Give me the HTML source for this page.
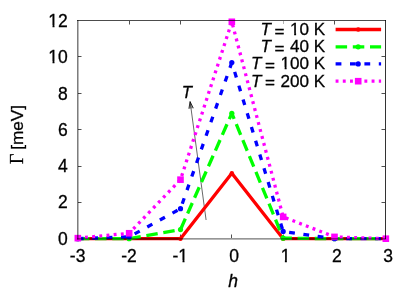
<!DOCTYPE html><html><head><meta charset="utf-8"><style>html,body{margin:0;padding:0;background:#fff}svg{display:block;will-change:transform}text{font-family:"Liberation Sans",sans-serif;fill:#000;stroke:#000;stroke-width:0.3px}</style></head><body>
<svg width="415" height="291" viewBox="0 0 415 291">
<rect width="415" height="291" fill="#fff"/>
<path d="M283.5 21v3" stroke="#b4b4b4" stroke-width="1" fill="none"/>
<path d="M129.5 238v-3.5M129.5 21v3.5M180.5 238v-3.5M180.5 21v3.5M231.5 238v-3.5M231.5 21v3.5M283.5 238v-3.5M334.5 238v-3.5M334.5 21v3.5M78 202.5h3.5M385 202.5h-3.5M78 166.5h3.5M385 166.5h-3.5M78 129.5h3.5M385 129.5h-3.5M78 93.5h3.5M385 93.5h-3.5M78 56.5h3.5M385 56.5h-3.5" stroke="#505050" stroke-width="1" fill="none"/>
<text x="77.63" y="262.3" font-size="17.5" text-anchor="middle">-3</text>
<text x="128.96" y="262.3" font-size="17.5" text-anchor="middle">-2</text>
<text x="180.30" y="262.3" font-size="17.5" text-anchor="middle">-1</text>
<text x="234.23" y="262.3" font-size="17.5" text-anchor="middle">0</text>
<text x="285.56" y="262.3" font-size="17.5" text-anchor="middle">1</text>
<text x="336.90" y="262.3" font-size="17.5" text-anchor="middle">2</text>
<text x="388.23" y="262.3" font-size="17.5" text-anchor="middle">3</text>
<text x="67.8"  y="244.80" font-size="17.5" text-anchor="end">0</text>
<text x="67.8"  y="208.47" font-size="17.5" text-anchor="end">2</text>
<text x="67.8"  y="172.13" font-size="17.5" text-anchor="end">4</text>
<text x="67.8"  y="136.10" font-size="17.5" text-anchor="end">6</text>
<text x="67.8"  y="99.87" font-size="17.5" text-anchor="end">8</text>
<text x="67.8"  y="63.14" font-size="17.5" text-anchor="end">10</text>
<text x="67.8"  y="26.80" font-size="17.5" text-anchor="end">12</text>
<text x="233.1" y="287.3" font-size="17.5" text-anchor="middle" font-style="italic">h</text>
<text transform="translate(22.8,164) rotate(-90)" font-size="18" font-family="Liberation Serif" style="font-family:'Liberation Serif',serif">Γ</text>
<text transform="translate(22.8,149.8) rotate(-90)" font-size="17.2">[meV]</text>
<path d="M206.1 220L190.1 101.6" stroke="#000" stroke-opacity="0.85" stroke-width="0.7" fill="none"/>
<path d="M188.9 108.7L190.1 101.6L193.3 108.2" stroke="#000" stroke-width="0.8" fill="#000" fill-opacity="0.35" stroke-linejoin="miter"/>
<text x="186.8" y="98.3" font-size="16.8" text-anchor="middle" font-style="italic">T</text>
<polyline points="77.83,238.70 129.16,238.70 180.50,238.70 231.83,173.30 283.16,238.70 334.50,238.70 385.83,238.70" fill="none" stroke="#ff0000" stroke-width="3.3" stroke-linejoin="round"/>
<path d="M78 238.70H181.50M282.16 238.70H386" fill="none" stroke="#000" stroke-opacity="0.2" stroke-width="2.4"/>
<circle cx="77.83" cy="238.70" r="2.2" fill="#ff0000"/>
<circle cx="129.16" cy="238.70" r="2.2" fill="#ff0000"/>
<circle cx="180.50" cy="238.70" r="2.2" fill="#ff0000"/>
<circle cx="231.83" cy="173.30" r="2.2" fill="#ff0000"/>
<circle cx="283.16" cy="238.70" r="2.2" fill="#ff0000"/>
<circle cx="334.50" cy="238.70" r="2.2" fill="#ff0000"/>
<circle cx="385.83" cy="238.70" r="2.2" fill="#ff0000"/>
<polyline points="77.83,238.70 129.16,238.70 180.50,229.62" fill="none" stroke="#00ff00" stroke-width="3.3" stroke-linejoin="miter" stroke-dasharray="11.5 5.7" stroke-dashoffset="0.00"/>
<polyline points="180.50,229.62 231.83,113.35" fill="none" stroke="#00ff00" stroke-width="3.3" stroke-linejoin="miter" stroke-dasharray="11.5 5.7" stroke-dashoffset="102.76"/>
<polyline points="231.83,113.35 283.16,238.16" fill="none" stroke="#00ff00" stroke-width="3.3" stroke-linejoin="miter" stroke-dasharray="11.5 5.7" stroke-dashoffset="229.06"/>
<polyline points="283.16,238.16 334.50,238.70 385.83,238.70" fill="none" stroke="#00ff00" stroke-width="3.3" stroke-linejoin="miter" stroke-dasharray="11.5 5.7" stroke-dashoffset="364.01"/>
<circle cx="77.83" cy="238.70" r="2.6" fill="#00ff00"/>
<circle cx="129.16" cy="238.70" r="2.6" fill="#00ff00"/>
<circle cx="180.50" cy="229.62" r="2.6" fill="#00ff00"/>
<circle cx="231.83" cy="113.35" r="2.6" fill="#00ff00"/>
<circle cx="283.16" cy="238.16" r="2.6" fill="#00ff00"/>
<circle cx="334.50" cy="238.70" r="2.6" fill="#00ff00"/>
<circle cx="385.83" cy="238.70" r="2.6" fill="#00ff00"/>
<polyline points="77.83,238.70 129.16,236.88 180.50,208.72" fill="none" stroke="#0000ff" stroke-width="3.3" stroke-linejoin="miter" stroke-dasharray="5.8 8.6" stroke-dashoffset="0.00"/>
<polyline points="180.50,208.72 231.83,62.48" fill="none" stroke="#0000ff" stroke-width="3.3" stroke-linejoin="miter" stroke-dasharray="5.8 8.6" stroke-dashoffset="109.91"/>
<polyline points="231.83,62.48 283.16,231.43" fill="none" stroke="#0000ff" stroke-width="3.3" stroke-linejoin="miter" stroke-dasharray="5.8 8.6" stroke-dashoffset="263.80"/>
<polyline points="283.16,231.43 334.50,238.70 385.83,238.70" fill="none" stroke="#0000ff" stroke-width="3.3" stroke-linejoin="miter" stroke-dasharray="5.8 8.6" stroke-dashoffset="440.38"/>
<circle cx="77.83" cy="238.70" r="2.6" fill="#0000ff"/>
<circle cx="129.16" cy="236.88" r="2.6" fill="#0000ff"/>
<circle cx="180.50" cy="208.72" r="2.6" fill="#0000ff"/>
<circle cx="231.83" cy="62.48" r="2.6" fill="#0000ff"/>
<circle cx="283.16" cy="231.43" r="2.6" fill="#0000ff"/>
<circle cx="334.50" cy="238.70" r="2.6" fill="#0000ff"/>
<circle cx="385.83" cy="238.70" r="2.6" fill="#0000ff"/>
<polyline points="77.83,238.16 129.16,233.25 180.50,179.66" fill="none" stroke="#ff00ff" stroke-width="3.3" stroke-linejoin="miter" stroke-dasharray="2.9 4.3" stroke-dashoffset="0.00"/>
<polyline points="180.50,179.66 231.83,21.79" fill="none" stroke="#ff00ff" stroke-width="3.3" stroke-linejoin="miter" stroke-dasharray="2.9 4.3" stroke-dashoffset="125.78"/>
<polyline points="231.83,21.79 283.16,216.90" fill="none" stroke="#ff00ff" stroke-width="3.3" stroke-linejoin="miter" stroke-dasharray="2.9 4.3" stroke-dashoffset="292.28"/>
<polyline points="283.16,216.90 334.50,236.88 385.83,238.70" fill="none" stroke="#ff00ff" stroke-width="3.3" stroke-linejoin="miter" stroke-dasharray="2.9 4.3" stroke-dashoffset="494.03"/>
<rect x="74.53" y="234.85" width="6.6" height="6.6" fill="#ff00ff"/>
<rect x="125.86" y="229.95" width="6.6" height="6.6" fill="#ff00ff"/>
<rect x="177.20" y="176.36" width="6.6" height="6.6" fill="#ff00ff"/>
<rect x="228.53" y="18.49" width="6.6" height="6.6" fill="#ff00ff"/>
<rect x="279.86" y="213.60" width="6.6" height="6.6" fill="#ff00ff"/>
<rect x="331.20" y="233.58" width="6.6" height="6.6" fill="#ff00ff"/>
<rect x="382.53" y="235.40" width="6.6" height="6.6" fill="#ff00ff"/>
<path d="M335.6 29.5H381.1" fill="none" stroke="#ff0000" stroke-width="3.3"/>
<circle cx="358.20" cy="29.50" r="2.2" fill="#ff0000"/>
<text transform="translate(260.6,34.90) scale(1,0.95)" font-size="17.1" font-style="italic">T</text>
<text transform="translate(274.5,36.70) scale(1,0.95)" font-size="17.1">=</text>
<text transform="translate(325.2,34.90) scale(1,0.95)" font-size="17.1" text-anchor="end">10 K</text>
<path d="M335.6 46.8H381.1" fill="none" stroke="#00ff00" stroke-width="3.3" stroke-dasharray="11.5 5.7"/>
<circle cx="358.20" cy="46.80" r="2.6" fill="#00ff00"/>
<text transform="translate(260.6,52.20) scale(1,0.95)" font-size="17.1" font-style="italic">T</text>
<text transform="translate(274.5,54.00) scale(1,0.95)" font-size="17.1">=</text>
<text transform="translate(325.2,52.20) scale(1,0.95)" font-size="17.1" text-anchor="end">40 K</text>
<path d="M335.6 63.9H381.1" fill="none" stroke="#0000ff" stroke-width="3.3" stroke-dasharray="5.8 8.6"/>
<circle cx="358.20" cy="63.90" r="2.6" fill="#0000ff"/>
<text transform="translate(251,69.30) scale(1,0.95)" font-size="17.1" font-style="italic">T</text>
<text transform="translate(264.9,71.10) scale(1,0.95)" font-size="17.1">=</text>
<text transform="translate(325.2,69.30) scale(1,0.95)" font-size="17.1" text-anchor="end">100 K</text>
<path d="M335.6 81.2H381.1" fill="none" stroke="#ff00ff" stroke-width="3.3" stroke-dasharray="2.9 4.3"/>
<rect x="354.90" y="77.90" width="6.6" height="6.6" fill="#ff00ff"/>
<text transform="translate(251,86.60) scale(1,0.95)" font-size="17.1" font-style="italic">T</text>
<text transform="translate(264.9,88.40) scale(1,0.95)" font-size="17.1">=</text>
<text transform="translate(325.2,86.60) scale(1,0.95)" font-size="17.1" text-anchor="end">200 K</text>
<rect x="178.46" y="260" width="4.05" height="4" fill="#fff"/>
<rect x="184.50" y="260" width="3.91" height="4" fill="#fff"/>
<rect x="280.82" y="260" width="4.05" height="4" fill="#fff"/>
<rect x="286.86" y="260" width="3.91" height="4" fill="#fff"/>
<rect x="48.46" y="61" width="4.05" height="4" fill="#fff"/>
<rect x="54.50" y="61" width="3.91" height="4" fill="#fff"/>
<rect x="48.46" y="25" width="4.05" height="4" fill="#fff"/>
<rect x="54.50" y="25" width="3.91" height="4" fill="#fff"/>
<rect x="290.17" y="33" width="3.98" height="4" fill="#fff"/>
<rect x="296.10" y="33" width="3.84" height="4" fill="#fff"/>
<rect x="280.67" y="67" width="3.98" height="4" fill="#fff"/>
<rect x="286.60" y="67" width="3.84" height="4" fill="#fff"/>
<path d="M77 20.5H386" stroke="#000" stroke-opacity="0.7" stroke-width="1" fill="none"/>
<path d="M77 238.85H386" stroke="#000" stroke-opacity="0.55" stroke-width="1.3" fill="none"/>
<path d="M77.8 20V239.5" stroke="#000" stroke-opacity="0.6" stroke-width="1.3" fill="none"/>
<path d="M385.5 20V239" stroke="#000" stroke-opacity="0.8" stroke-width="1" fill="none"/>
</svg></body></html>
